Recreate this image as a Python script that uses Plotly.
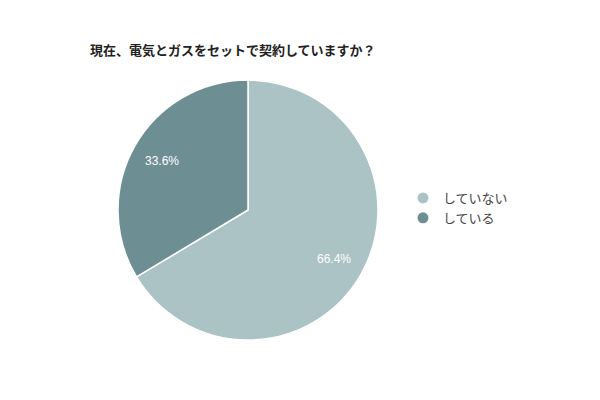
import math
import plotly.graph_objects as go

labels = ["していない", "している"]
values = [66.4, 33.6]
colors = ["#abc3c4", "#6d8f94"]

# pie position in pixels (page has an 8px body margin)
off = 8
cx, cy, r = 248 - off, 210 - off, 130
W, H = 600, 400

fig = go.Figure()
fig.add_trace(go.Pie(
    labels=labels,
    values=values,
    sort=False,
    direction="clockwise",
    rotation=0,
    marker=dict(colors=colors, line=dict(color="white", width=1.5)),
    textinfo="none",
    showlegend=False,
    domain=dict(x=[(cx - r) / W, (cx + r) / W],
                y=[1 - (cy + r) / H, 1 - (cy - r) / H]),
    hoverinfo="label+percent",
))

# legend with round markers
for lab, col in zip(labels, colors):
    fig.add_trace(go.Scatter(
        x=[None], y=[None], mode="markers", name=lab,
        marker=dict(color=col, size=11, symbol="circle"),
    ))

# percent labels at 3/4 radius of each slice's mid angle
total = sum(values)
start = 0
for v in values:
    mid = (start + v / 2) / total * 2 * math.pi
    start += v
    px = cx + 0.76 * r * math.sin(mid)
    py = cy - 0.76 * r * math.cos(mid)
    fig.add_annotation(
        x=px / W, y=1 - py / H, xref="paper", yref="paper",
        xanchor="center", yanchor="middle",
        text=f"{v:.1f}%", showarrow=False,
        font=dict(color="white", size=12, family="Liberation Sans"),
    )

fig.update_layout(
    width=W,
    height=H,
    margin=dict(l=0, r=0, t=0, b=0),
    paper_bgcolor="white",
    plot_bgcolor="white",
    xaxis=dict(visible=False),
    yaxis=dict(visible=False),
    font=dict(family="Noto Sans CJK JP", color="#333333"),
    title=dict(
        text="<b>現在、電気とガスをセットで契約していますか？</b>",
        x=82 / W, xanchor="left",
        y=1 - 42 / H, yanchor="middle",
        font=dict(size=13, color="#222222", family="Noto Sans CJK JP"),
    ),
    legend=dict(
        x=395 / W, xanchor="left",
        y=1 - 200 / H, yanchor="middle",
        font=dict(size=13, color="#444444"),
        itemwidth=30,
        tracegroupgap=0,
    ),
)

fig.write_html("out.html")
